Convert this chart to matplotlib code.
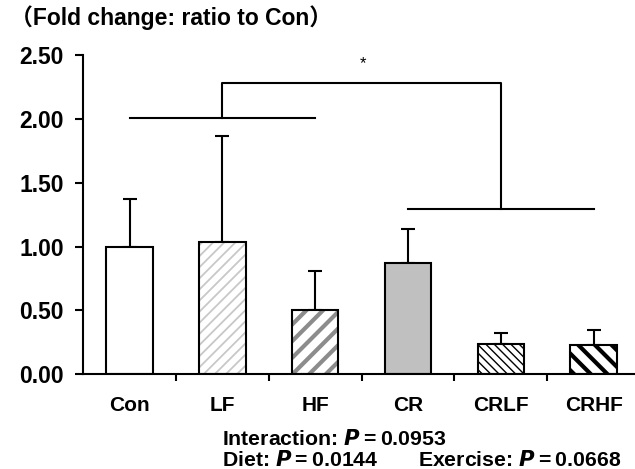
import matplotlib
matplotlib.use("Agg")
import matplotlib.pyplot as plt
import numpy as np

categories = ["Con", "LF", "HF", "CR", "CRLF", "CRHF"]
means = [1.00, 1.035, 0.50, 0.87, 0.235, 0.23]
errors = [0.37, 0.835, 0.31, 0.27, 0.085, 0.115]
yticks = [0.00, 0.50, 1.00, 1.50, 2.00, 2.50]
ytick_labels = ["0.00", "0.50", "1.00", "1.50", "2.00", "2.50"]

face_colors = ["white", "white", "white", "#c0c0c0", "white", "white"]
hatches = [None, "///", "//", None, "\\\\\\\\", "\\\\"]
hatch_colors = [None, "#c8c8c8", "#8c8c8c", None, "black", "black"]
hatch_lws = [1.0, 1.3, 3.0, 1.0, 1.0, 3.0]

plt.rcParams['font.family'] = ['Liberation Sans', 'Noto Sans CJK JP', 'DejaVu Sans']
plt.rcParams['font.weight'] = 'bold'

fig = plt.figure(figsize=(6.35, 4.69), dpi=100)
W, H = 635, 469
left_px, right_px, top_px, bot_px = 83.3, 640, 55.5, 374
ax = fig.add_axes([left_px / W, (H - bot_px) / H, (right_px - left_px) / W, (bot_px - top_px) / H])

x = np.arange(len(categories))
bw = 0.5
for i in range(len(categories)):
    if hatches[i]:
        with plt.rc_context({'hatch.linewidth': hatch_lws[i], 'hatch.color': hatch_colors[i]}):
            b = ax.bar(x[i], means[i], width=bw, color=face_colors[i], edgecolor=hatch_colors[i],
                       hatch=hatches[i], linewidth=0, zorder=2)
            for p in b:
                if hasattr(p, "set_hatch_linewidth"):
                    p.set_hatch_linewidth(hatch_lws[i])
    else:
        ax.bar(x[i], means[i], width=bw, color=face_colors[i], linewidth=0, zorder=2)
    ax.bar(x[i], means[i], width=bw, fill=False, edgecolor='black', linewidth=1.5, zorder=3)

ax.errorbar(x, means, yerr=[np.zeros(len(errors)), errors], fmt='none', ecolor='black',
            elinewidth=1.5, capsize=5, capthick=1.5, zorder=1)

ax.set_xlim(-0.5, 5.5)
ax.set_ylim(0, 2.5)
ax.set_yticks(yticks)
ax.set_yticklabels(ytick_labels, fontsize=16.5, fontweight='bold')
ax.set_xticks(x)
ax.set_xticklabels(categories, fontsize=15, fontweight='bold')
ax.tick_params(axis='x', length=0, pad=16)
ax.set_xticks(np.arange(0.5, 5.5, 1.0), minor=True)
ax.tick_params(axis='x', which='minor', length=5, width=1.5, direction='out')
ax.tick_params(axis='y', length=6, width=1.5, direction='out', pad=8)
ax.spines['top'].set_visible(False)
ax.spines['right'].set_visible(False)
ax.spines['left'].set_linewidth(1.5)
ax.spines['bottom'].set_linewidth(1.5)

# Significance brackets
lw = 1.5
ax.plot([0, 2], [2.01, 2.01], color='black', lw=lw, clip_on=False)
ax.plot([3, 5], [1.293, 1.293], color='black', lw=lw, clip_on=False)
ax.plot([1, 1, 4, 4], [2.01, 2.287, 2.287, 1.293], color='black', lw=lw, clip_on=False)
ax.text(2.51, 2.44, "*", ha='center', va='center', fontsize=12, fontweight='normal')

fig.text(10 / W, 1 - 18 / H, "（Fold change: ratio to Con）", ha='left', va='center',
         fontsize=16.5, fontweight='bold')

fs_p = 15.3
fig.text(222 / W, 1 - 439 / H, "Interaction: $\\boldsymbol{P}$\u2009=\u20090.0953", ha='left', va='center',
         fontsize=fs_p, fontweight='bold')
fig.text(222 / W, 1 - 460 / H, "Diet: $\\boldsymbol{P}$\u2009=\u20090.0144", ha='left', va='center',
         fontsize=fs_p, fontweight='bold')
fig.text(418 / W, 1 - 460 / H, "Exercise: $\\boldsymbol{P}$\u2009=\u20090.0668", ha='left', va='center',
         fontsize=fs_p, fontweight='bold')

fig.savefig("out.png", dpi=100)
